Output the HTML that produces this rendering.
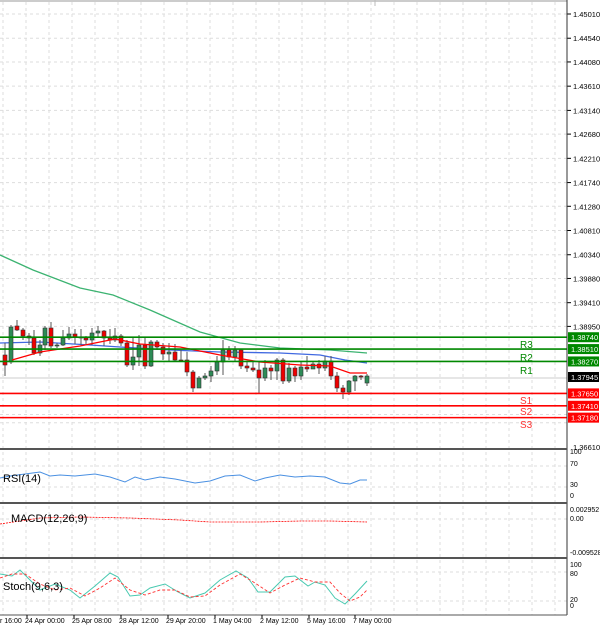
<!DOCTYPE html>
<html><head><meta charset="utf-8"><style>
body{margin:0;background:#fff;width:600px;height:626px;overflow:hidden}
svg{display:block}
text{font-family:"Liberation Sans",sans-serif}
</style></head><body>
<svg id="s" width="600" height="626" xmlns="http://www.w3.org/2000/svg"></svg>
<script>
const s=document.getElementById('s');let h='';
const Y=p=>14+(1.4501-p)*5155;
// grid
let g='';
for(let x=3;x<567;x+=23){g+=`<line x1="${x}" y1="2" x2="${x}" y2="615" stroke="#ddd" stroke-dasharray="3,3"/>`;}
const labs=['1.45010','1.44540','1.44080','1.43610','1.43140','1.42680','1.42210','1.41740','1.41280','1.40810','1.40340','1.39880','1.39410','1.38950'];
labs.forEach(l=>{const y=Y(+l);g+=`<line x1="0" y1="${y}" x2="567" y2="${y}" stroke="#ddd" stroke-dasharray="3,3"/><line x1="567" y1="${y}" x2="571" y2="${y}" stroke="#000"/><text x="573" y="${y+3}" font-size="7.5">${l}</text>`;});
[1.3724,1.3708].forEach(p=>{const y=Y(p);g+=`<line x1="0" y1="${y}" x2="567" y2="${y}" stroke="#ddd" stroke-dasharray="3,3"/>`});
g+=`<text x="573" y="450" font-size="7.5">1.36610</text>`;
[[466],[487],[519],[572],[601]].forEach(a=>g+=`<line x1="0" y1="${a[0]}" x2="567" y2="${a[0]}" stroke="#ddd" stroke-dasharray="3,3"/>`);
h+=g;
h+=`<line x1="0" y1="1" x2="567" y2="1" stroke="#999"/><line x1="375" y1="0" x2="375" y2="6" stroke="#bbb"/>`;
h+=`<line x1="0" y1="378" x2="567" y2="378" stroke="#ccc"/>`;
// MAs
const pl=(pts,c,w)=>`<polyline points="${pts.map(p=>p.join(',')).join(' ')}" fill="none" stroke="${c}" stroke-width="${w}"/>`;
h+=pl([[0,255],[33,270],[80,288],[113,295],[150,310],[200,332],[240,343],[280,348],[330,350],[367,353]],'#3cb371',1.3);
h+=pl([[0,343],[40,342],[90,345],[120,347],[170,350],[220,352],[280,353],[320,355],[345,360],[367,363]],'#4169e1',1.3);
// candles
const C=[[5,355,365,343,376],[11,362,327,325,364],[17,326,330,320,331],[23,330,336,328,340],[29,336,338,333,345],[34,338,353,330,355],[40,353,345,340,356],[45,345,328,326,350],[51,328,346,322,348],[57,346,345,343,348],[63,345,338,330,346],[69,338,334,327,340],[75,334,337,329,344],[81,337,338,329,345],[86,338,340,336,344],[92,340,333,328,345],[98,333,331,326,338],[104,331,338,330,346],[110,338,340,329,344],[115,340,336,328,342],[121,336,343,334,346],[127,343,365,340,367],[133,365,357,338,370],[139,357,345,335,366],[145,345,366,338,369],[151,366,342,340,367],[157,342,347,340,350],[163,347,354,343,360],[169,354,352,343,361],[175,352,360,344,362],[181,360,360,350,362],[187,360,372,352,376],[193,372,388,370,392],[199,388,378,376,386],[205,378,376,373,380],[211,376,371,366,382],[217,371,362,356,375],[223,362,350,340,375],[229,350,357,346,360],[235,357,350,346,362],[241,350,366,349,369],[247,366,368,362,372],[253,368,370,361,372],[259,370,378,362,393],[265,378,368,360,381],[271,368,371,365,380],[277,371,360,358,380],[283,360,381,358,384],[289,381,368,363,383],[295,368,376,366,382],[301,376,367,362,380],[307,367,369,356,372],[313,369,364,362,369],[319,364,368,360,374],[325,368,361,356,371],[331,361,376,356,380],[337,376,388,372,392],[343,388,392,385,399],[349,392,381,380,395],[355,381,376,375,391],[361,376,377,375,380],[367,383,376,374,386]];
C.forEach(([x,o,c,hh,l])=>{const up=c<o;const col=up?'#2e8b57':'#e00';h+=`<line x1="${x}" y1="${hh}" x2="${x}" y2="${l}" stroke="#555"/><rect x="${x-2}" y="${Math.min(o,c)}" width="4" height="${Math.max(1,Math.abs(o-c))}" fill="${col}" stroke="#333" stroke-width="0.6"/>`;});
h+=pl([[12,360],[40,352],[80,346],[115,339],[140,344],[180,347],[220,355],[260,362],[300,365],[330,366],[350,373],[367,373]],'#f00',1.3);
// levels
const lev=[[1.3874,'#080','1.38740',null],[1.3851,'#080','1.38510','R3'],[1.3827,'#080','1.38270','R2'],[1.3765,'#f00','1.37650',null],[1.3741,'#f00','1.37410','S1'],[1.3718,'#f00','1.37180','S2']];
lev.forEach(([p,c,t])=>{const y=Y(p);h+=`<line x1="0" y1="${y}" x2="567" y2="${y}" stroke="${c}" stroke-width="1.6"/><rect x="568" y="${y-5}" width="31" height="10" fill="${c}"/><text x="571" y="${y+3}" font-size="7.5" fill="#fff">${t}</text>`;});
[['R3',344],['R2',357],['R1',370]].forEach(a=>h+=`<text x="520" y="${a[1]+4}" font-size="10" fill="#080">${a[0]}</text>`);
[['S1',400],['S2',411],['S3',424]].forEach(a=>h+=`<text x="520" y="${a[1]+4}" font-size="10" fill="#f33">${a[0]}</text>`);
h+=`<rect x="568" y="372" width="31" height="10" fill="#000"/><text x="571" y="380" font-size="7.5" fill="#fff">1.37945</text>`;
// panes
h+=`<line x1="567" y1="0" x2="567" y2="615" stroke="#333"/>`;
[449,503,558].forEach(y=>h+=`<line x1="0" y1="${y}" x2="567" y2="${y}" stroke="#555" stroke-width="2"/>`);
h+=`<line x1="0" y1="615" x2="567" y2="615" stroke="#555"/>`;
[['100',454],['70',466],['30',487],['0',498],['0.002952',512],['0.00',521],['-0.009528',555],['100',567],['80',576],['20',602],['0',608]].forEach(a=>h+=`<text x="570" y="${a[1]}" font-size="7">${a[0]}</text>`);
// RSI
h+=pl([[0,478],[10,476],[25,474],[40,472],[50,476],[60,475],[75,476],[95,474],[110,477],[125,482],[135,477],[145,480],[160,477],[175,479],[195,483],[210,481],[225,476],[240,475],[255,481],[265,478],[280,475],[295,477],[310,476],[325,477],[340,483],[350,484],[360,480],[367,480]],'#4a90e2',1);
h+=`<text x="3" y="482" font-size="11">RSI(14)</text>`;
// MACD
h+=pl([[0,524],[20,521],[40,518],[80,517],[130,518],[180,520],[210,522],[260,522],[300,521],[330,521],[367,522]],'#f00',0.8).replace('/>',' stroke-dasharray="2,1"/>');
h+=`<text x="11" y="522" font-size="11">MACD(12,26,9)</text>`;
// Stoch
h+=pl([[0,574],[12,576],[20,570],[28,578],[40,590],[55,584],[70,590],[80,598],[95,586],[110,573],[118,577],[130,596],[140,595],[150,588],[165,584],[178,592],[190,598],[205,593],[220,580],[236,571],[248,578],[258,592],[270,592],[285,577],[295,576],[308,586],[315,582],[325,585],[335,598],[345,604],[355,594],[367,581]],'#48c9b0',1);
h+=pl([[0,578],[12,574],[25,574],[40,584],[55,590],[70,588],[85,596],[100,588],[115,578],[130,590],[145,595],[160,590],[175,590],[190,597],[205,596],[220,585],[240,574],[255,583],[270,593],[285,585],[300,578],[315,582],[330,582],[340,593],[350,601],[360,597],[367,590]],'#f33',0.9).replace('/>',' stroke-dasharray="3,2"/>');
h+=`<text x="3" y="590" font-size="11">Stoch(9,6,3)</text>`;
// time axis
[['r 16:00',-2],['24 Apr 00:00',27],['25 Apr 08:00',74],['28 Apr 12:00',121],['29 Apr 20:00',168],['1 May 04:00',215],['2 May 12:00',262],['5 May 16:00',309],['7 May 00:00',355]].forEach((a,i)=>{h+=`<line x1="${a[1]}" y1="615" x2="${a[1]}" y2="618" stroke="#000"/><text x="${i?a[1]-2:0}" y="623" font-size="7">${a[0]}</text>`;});
s.innerHTML=h;
</script>
</body></html>
